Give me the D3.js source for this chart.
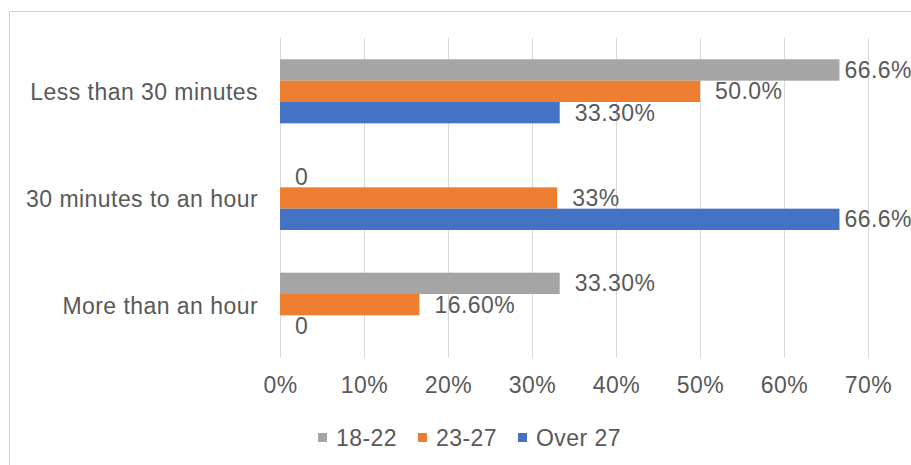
<!DOCTYPE html>
<html>
<head>
<meta charset="utf-8">
<script src="https://cdn.jsdelivr.net/npm/d3@7"></script>
<style>
  html, body { margin: 0; padding: 0; background: #fff; }
  svg { display: block; font-family: "Liberation Sans", Arial, sans-serif; }
  svg text { letter-spacing: 0.45px; }
</style>
</head>
<body>
<svg id="chart" width="911" height="465"></svg>
<script>
// Time spent per answer group, by age band
const categories = ["Less than 30 minutes", "30 minutes to an hour", "More than an hour"];
const seriesNames = ["18-22", "23-27", "Over 27"];
const seriesColors = ["#A5A5A5", "#ED7D31", "#4472C4"];
const values1822 = [0.666, 0, 0.333];
const values2327 = [0.50, 0.33, 0.166];
const valuesOver27 = [0.333, 0.666, 0];
const labels1822 = ["66.6%", "0", "33.30%"];
const labels2327 = ["50.0%", "33%", "16.60%"];
const labelsOver27 = ["33.30%", "66.6%", "0"];
const tickValues = [0, 0.1, 0.2, 0.3, 0.4, 0.5, 0.6, 0.7];

const seriesValues = [values1822, values2327, valuesOver27];
const seriesLabels = [labels1822, labels2327, labelsOver27];

const svg = d3.select("#chart");
const textColor = "#595959";
const fontSize = 23;

// outer chart frame
svg.append("rect")
  .attr("x", 9.5).attr("y", 11.5)
  .attr("width", 1000).attr("height", 1000)
  .attr("fill", "none").attr("stroke", "#d0d0d0").attr("stroke-width", 1);

const x = d3.scaleLinear().domain([0, 0.7]).range([280, 868]);
const y = d3.scaleBand().domain(categories).range([38, 358])
  .paddingInner(0.4).paddingOuter(0.2);
const ySeries = d3.scaleBand().domain(seriesNames).range([0, y.bandwidth()]);

// vertical gridlines
svg.append("g").selectAll("line").data(tickValues).join("line")
  .attr("x1", d => Math.round(x(d)) + 0.5).attr("x2", d => Math.round(x(d)) + 0.5)
  .attr("y1", 38).attr("y2", 358)
  .attr("stroke", "#d9d9d9").attr("stroke-width", 1);

// x axis tick labels
const xAxis = d3.axisBottom(x).tickValues(tickValues)
  .tickFormat(d3.format(".0%")).tickSize(0).tickPadding(0);
const gx = svg.append("g").attr("transform", "translate(0,385)").call(xAxis);
gx.select(".domain").remove();
gx.selectAll("text")
  .attr("y", 0).attr("dy", "0.35em")
  .attr("fill", textColor).style("font-size", fontSize + "px")
  .style("font-family", "'Liberation Sans', Arial, sans-serif");

// category labels
const yAxis = d3.axisLeft(y).tickSize(0).tickPadding(0);
const gy = svg.append("g").attr("transform", "translate(258,1)").call(yAxis);
gy.select(".domain").remove();
gy.selectAll("text")
  .attr("dy", "0.35em")
  .attr("fill", textColor).style("font-size", fontSize + "px")
  .style("font-family", "'Liberation Sans', Arial, sans-serif");

// bars and value labels
const rows = [];
seriesNames.forEach((s, si) => {
  categories.forEach((c, ci) => {
    rows.push({ series: s, si, category: c, value: seriesValues[si][ci], label: seriesLabels[si][ci] });
  });
});

svg.append("g").selectAll("rect").data(rows).join("rect")
  .attr("x", x(0))
  .attr("y", d => y(d.category) + ySeries(d.series))
  .attr("width", d => x(d.value) - x(0))
  .attr("height", ySeries.bandwidth())
  .attr("fill", d => seriesColors[d.si]);

const labelG = svg.append("g");
labelG.selectAll("text").data(rows).join("text")
  .attr("y", d => y(d.category) + ySeries(d.series) + ySeries.bandwidth() / 2)
  .attr("dy", "0.35em")
  .attr("fill", textColor)
  .style("font-size", fontSize + "px")
  .text(d => d.label)
  .attr("x", function(d) {
    const w = this.getComputedTextLength();
    return Math.min(x(d.value) + 15, 912 - w);
  });

// legend
const legend = svg.append("g");
const legendX = [318, 418, 518];
seriesNames.forEach((s, i) => {
  legend.append("rect")
    .attr("x", legendX[i]).attr("y", 433)
    .attr("width", 9).attr("height", 9)
    .attr("fill", seriesColors[i]);
  legend.append("text")
    .attr("x", legendX[i] + 18).attr("y", 437.5).attr("dy", "0.35em")
    .attr("fill", textColor).style("font-size", fontSize + "px")
    .text(s);
});
</script>
</body>
</html>
